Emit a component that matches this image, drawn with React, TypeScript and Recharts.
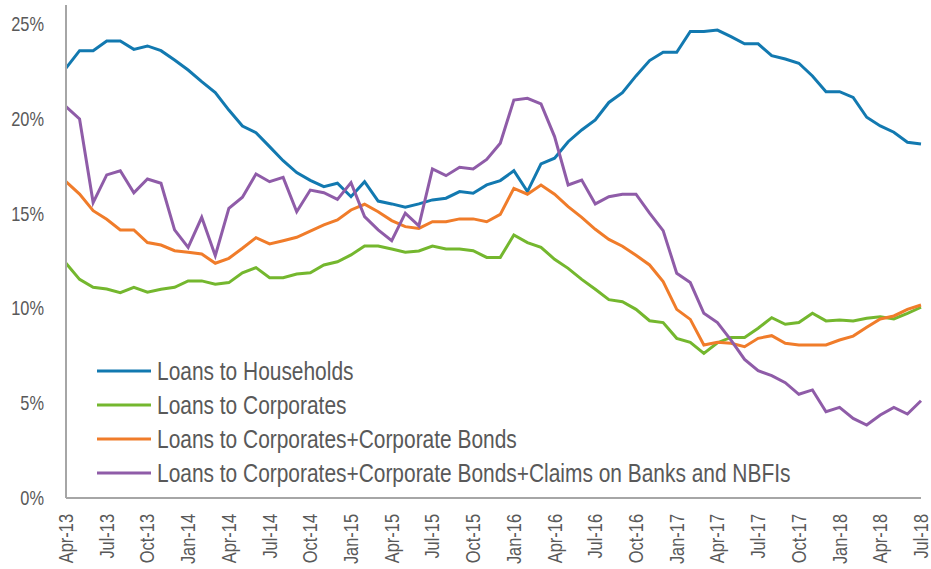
import React from "react";
import { LineChart, Line, XAxis, YAxis, Legend } from "recharts";

const months = [
  "Apr-13","May-13","Jun-13","Jul-13","Aug-13","Sep-13","Oct-13","Nov-13","Dec-13",
  "Jan-14","Feb-14","Mar-14","Apr-14","May-14","Jun-14","Jul-14","Aug-14","Sep-14","Oct-14","Nov-14","Dec-14",
  "Jan-15","Feb-15","Mar-15","Apr-15","May-15","Jun-15","Jul-15","Aug-15","Sep-15","Oct-15","Nov-15","Dec-15",
  "Jan-16","Feb-16","Mar-16","Apr-16","May-16","Jun-16","Jul-16","Aug-16","Sep-16","Oct-16","Nov-16","Dec-16",
  "Jan-17","Feb-17","Mar-17","Apr-17","May-17","Jun-17","Jul-17","Aug-17","Sep-17","Oct-17","Nov-17","Dec-17",
  "Jan-18","Feb-18","Mar-18","Apr-18","May-18","Jun-18","Jul-18",
];

const households = [
  22.67, 23.59, 23.59, 24.1, 24.1, 23.66, 23.84, 23.59, 23.1, 22.57, 21.96, 21.38, 20.46, 19.62, 19.27, 18.53,
  17.79, 17.16, 16.75, 16.42, 16.6, 15.89, 16.68, 15.66, 15.51, 15.33, 15.51, 15.72, 15.81, 16.16, 16.07, 16.51,
  16.74, 17.26, 16.16, 17.62, 17.92, 18.79, 19.41, 19.94, 20.86, 21.38, 22.26, 23.07, 23.51, 23.51, 24.6, 24.6,
  24.68, 24.33, 23.95, 23.95, 23.33, 23.15, 22.93, 22.26, 21.43, 21.43, 21.13, 20.08, 19.62, 19.29, 18.76, 18.67,
];

const corporates = [
  12.38, 11.53, 11.11, 11.02, 10.83, 11.11, 10.85, 11.01, 11.11, 11.45, 11.45, 11.27, 11.36, 11.88, 12.15, 11.62,
  11.62, 11.81, 11.88, 12.29, 12.46, 12.82, 13.29, 13.29, 13.13, 12.96, 13.03, 13.29, 13.13, 13.13, 13.04, 12.69,
  12.69, 13.87, 13.47, 13.22, 12.59, 12.11, 11.53, 11.01, 10.46, 10.35, 9.95, 9.35, 9.25, 8.42, 8.21, 7.63,
  8.19, 8.47, 8.47, 8.95, 9.51, 9.16, 9.25, 9.74, 9.34, 9.39, 9.34, 9.48, 9.56, 9.44, 9.74, 10.06,
];

const corpBonds = [
  16.68, 16.03, 15.15, 14.7, 14.14, 14.14, 13.47, 13.34, 13.04, 12.96, 12.87, 12.38, 12.64, 13.17, 13.73, 13.4,
  13.57, 13.75, 14.08, 14.4, 14.66, 15.19, 15.49, 15.1, 14.63, 14.31, 14.22, 14.57, 14.57, 14.72, 14.72, 14.57,
  14.96, 16.33, 16.02, 16.51, 16.02, 15.37, 14.8, 14.17, 13.64, 13.28, 12.8, 12.29, 11.41, 9.95, 9.42, 8.07,
  8.21, 8.16, 7.98, 8.42, 8.56, 8.16, 8.07, 8.07, 8.07, 8.33, 8.54, 9.0, 9.44, 9.6, 9.95, 10.18,
];

const corpBondsClaims = [
  20.64, 19.99, 15.58, 17.04, 17.26, 16.1, 16.82, 16.6, 14.14, 13.22, 14.8, 12.78, 15.28, 15.86, 17.09, 16.68,
  16.91, 15.1, 16.24, 16.1, 15.75, 16.63, 14.84, 14.14, 13.57, 15.02, 14.35, 17.35, 17.0, 17.44, 17.35, 17.86,
  18.71, 20.99, 21.08, 20.78, 19.06, 16.51, 16.77, 15.51, 15.89, 16.02, 16.02, 15.02, 14.1, 11.85, 11.36, 9.74,
  9.25, 8.33, 7.31, 6.71, 6.45, 6.08, 5.47, 5.7, 4.55, 4.78, 4.2, 3.85, 4.38, 4.78, 4.43, 5.13,
];

const yTicks = [0, 5, 10, 15, 20, 25];

const seriesNames = [
  "Loans to Households",
  "Loans to Corporates",
  "Loans to Corporates+Corporate Bonds",
  "Loans to Corporates+Corporate Bonds+Claims on Banks and NBFIs",
];

const colors = ["#1279b0", "#74b72e", "#f07c2a", "#8f5ca8"];

const data = months.map((m, i) => ({
  month: m,
  s0: households[i],
  s1: corporates[i],
  s2: corpBonds[i],
  s3: corpBondsClaims[i],
}));

const FONT = "'Liberation Sans', Arial, sans-serif";
const TEXT = "#595959";
const AXIS = "#a6a6a6";
const SQUEEZE = 0.82;

const XTick = (props: any) => {
  const { x, y, payload } = props;
  return (
    <text
      x={0}
      y={0}
      transform={`translate(${x},${y + 14}) rotate(-90) scale(${SQUEEZE},1)`}
      textAnchor="end"
      dy="0.35em"
      fill={TEXT}
      fontSize={20}
      fontFamily={FONT}
    >
      {payload.value}
    </text>
  );
};

const YTick = (props: any) => {
  const { x, y, payload } = props;
  return (
    <text
      x={0}
      y={0}
      transform={`translate(${x},${y}) scale(${SQUEEZE},1)`}
      textAnchor="end"
      dy="0.355em"
      fill={TEXT}
      fontSize={20}
      fontFamily={FONT}
    >
      {`${payload.value}%`}
    </text>
  );
};

const LegendContent = (props: any) => {
  const { payload } = props;
  return (
    <div style={{ fontFamily: FONT, fontSize: 25.5, color: TEXT }}>
      {(payload || []).map((p: any, i: number) => (
        <div key={i} style={{ display: "flex", alignItems: "center", height: 34, whiteSpace: "nowrap" }}>
          <svg width={54} height={4} style={{ marginRight: 6, flex: "none" }}>
            <line x1={0} y1={2} x2={54} y2={2} stroke={p.color} strokeWidth={3} />
          </svg>
          <span style={{ display: "inline-block", transform: `scaleX(${SQUEEZE})`, transformOrigin: "0 50%" }}>
            {p.value}
          </span>
        </div>
      ))}
    </div>
  );
};

export default function App() {
  return (
    <div style={{ width: 931, height: 569, background: "#fff" }}>
      <style>{`body{margin:0;}`}</style>
      <LineChart width={931} height={569} data={data} margin={{ top: 5, right: 10, bottom: 0, left: 0 }}>
        <XAxis
          dataKey="month"
          interval={2}
          tickLine={false}
          tickSize={0}
          tick={<XTick />}
          height={71}
          axisLine={{ stroke: AXIS, strokeWidth: 2 }}
        />
        <YAxis
          domain={[0, 26]}
          ticks={yTicks}
          tickLine={false}
          tickSize={0}
          tickMargin={22}
          width={66}
          axisLine={{ stroke: AXIS, strokeWidth: 2 }}
          tick={<YTick />}
        />
        <Legend
          layout="vertical"
          align="center"
          verticalAlign="middle"
          itemSorter="dataKey"
          content={<LegendContent />}
          wrapperStyle={{ left: 97, top: 354, width: 800 }}
        />
        {["s0", "s1", "s2", "s3"].map((k, i) => (
          <Line
            key={k}
            type="linear"
            dataKey={k}
            name={seriesNames[i]}
            stroke={colors[i]}
            strokeWidth={3}
            dot={false}
            activeDot={false}
            isAnimationActive={false}
          />
        ))}
      </LineChart>
    </div>
  );
}
